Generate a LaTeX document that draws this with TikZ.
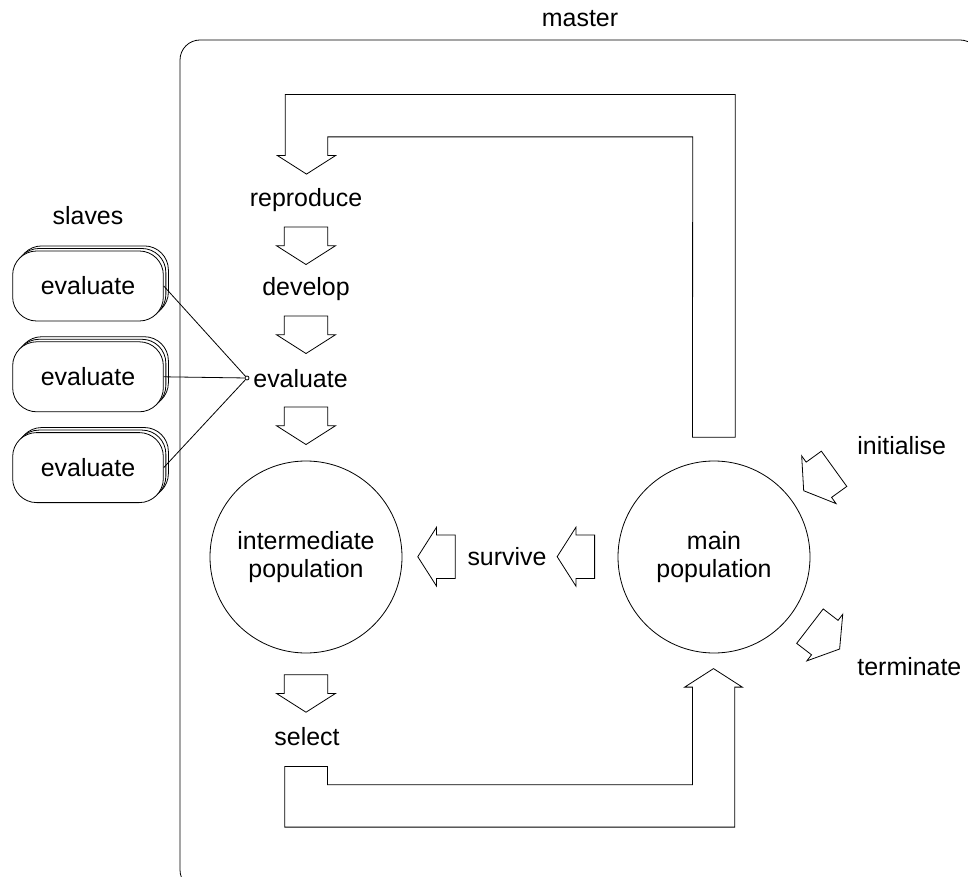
\documentclass[tikz,border=0pt]{standalone}
\usepackage{fontspec}
\setmainfont{Liberation Sans}
\usetikzlibrary{positioning, shapes.arrows, shadows, calc}
\newcommand{\labelfont}{\fontsize{18.7pt}{21.2pt}\selectfont}

\begin{document}
\begin{tikzpicture}[x=0.75pt, y=-0.75pt, line width=0.6pt, font=\labelfont,
        lbl/.style = {inner sep=0pt},
        slave box/.style = {draw, fill=white, rounded corners=18pt, minimum width=113pt, minimum height=52.5pt, double copy shadow={shadow xshift=1.9pt, shadow yshift=1.9pt}},
        population/.style = {draw, circle, minimum size=144pt, inner sep=0pt, align=center},
        flow arrow/.style = {draw, single arrow, inner sep=0pt, text height=16pt, text depth=16pt, minimum height=28.1pt, single arrow head extend=5.75pt, single arrow tip angle=115, anchor=tip},
        big arrow/.style = {draw, line join=miter}
    ]
    \useasboundingbox (0,0) rectangle (968,877);
    \clip (0,0) rectangle (968,877);

    % Nodes
    \node (master) [draw, rounded corners=15pt, minimum width=600pt, minimum height=637.5pt, label={[lbl, label distance=9pt]above:master}] at (580,465) {};
    \node (inter) [population] at (306,557) {intermediate\\population};
    \node (main) [population] at (714,557) {main\\population};

    \node (s1) [slave box] at (88,286) {evaluate};
    \node (s2) [slave box, below=15pt of s1] {evaluate};
    \node (s3) [slave box, below=15pt of s2] {evaluate};
    \node (slaves) [lbl, above=19pt of s1] {slaves};
    \node (dot) [draw, circle, inner sep=0pt, minimum size=3pt] at (247,378) {};

    \node (reproduce) [lbl, anchor=base] at (306,206.7) {reproduce};
    \node (develop) [lbl, anchor=base] at (306,296) {develop};
    \node (evaluate) [lbl, anchor=base west] at (253,387.3) {evaluate};
    \node (select) [lbl, anchor=base] at (307,745) {select};
    \node (survive) [lbl, anchor=base] at (507,565) {survive};
    \node (initialise) [lbl, anchor=base west] at (857,455) {initialise};
    \node (terminate) [lbl, anchor=base west] at (857,675) {terminate};

    % Block arrows
    \node (r2d) [flow arrow, rotate=-90] at (306,265) {};
    \node (d2e) [flow arrow, rotate=-90] at (306,354) {};
    \node (e2i) [flow arrow, rotate=-90] at (306,445) {};
    \node (i2s) [flow arrow, rotate=-90] at (306,712.7) {};
    \node (m2s) [flow arrow, rotate=180] at (556.7,556.7) {};
    \node (s2i) [flow arrow, rotate=180] at (417.3,556.7) {};
    \node (init) [flow arrow, rotate=215.8] at (803.3,491) {};
    \node (term) [flow arrow, rotate=-37.6] at (840,649.3) {};

    % Arrows
    \draw (s1.east) -- (dot);
    \draw (s2.east) -- (dot);
    \draw (s3.east) -- (dot);
    \draw[big arrow] ($(main.north)+(-21.5,-23.3)$) -- ++(42.7,0) -- ++(0,-342.7) -- ++(-450,0) -- ++(0,61) -- ++(-7.7,0) -- ++(29,18.5) -- ++(29,-18.5) -- ++(-7.7,0) -- ++(0,-18.7) -- ++(364.9,0) -- cycle;
    \draw[big arrow] ($(inter.south)+(-21.3,113)$) -- ++(42.7,0) -- ++(0,18.3) -- ++(365,0) -- ++(0,-97.6) -- ++(-7.7,0) -- ++(28.8,-18.5) -- ++(28.8,18.5) -- ++(-7.6,0) -- ++(0,140) -- ++(-450,0) -- cycle;

\end{tikzpicture}
\end{document}
